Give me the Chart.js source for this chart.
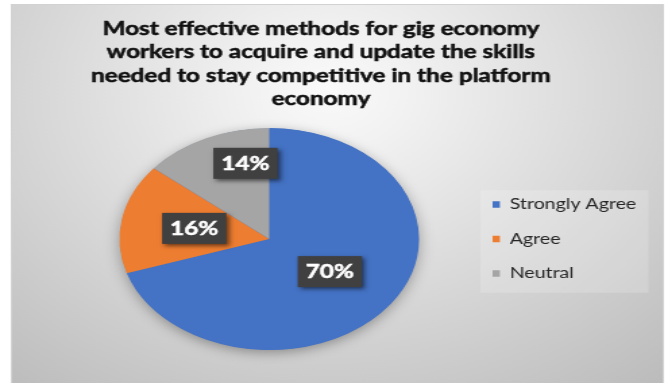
<!DOCTYPE html>
<html>
<head>
<meta charset="utf-8">
<script src="https://cdn.jsdelivr.net/npm/chart.js@4.4.0/dist/chart.umd.min.js"></script>
<style>
  html, body { margin: 0; padding: 0; background: #fff; }
  #survey { display: block; }
</style>
</head>
<body>
<!-- drawn at 495px wide, shown 668px wide -->
<canvas id="survey" width="495" height="383" style="width:668px;height:383px"></canvas>
<script>
const titleLines = [
  "Most effective methods for gig economy",
  "workers to acquire and update the skills",
  "needed to stay competitive in the platform",
  "economy"
];
const responses = ["Strongly Agree", "Agree", "Neutral"];
const shares = [70, 16, 14];
const sliceColors = ["#4472C4", "#ED7D31", "#A5A5A5"];
// where each percentage tag sits in its slice (share of the sweep, share of the radius)
const tagSweep = [0.5, 0.5, 0.74];
const tagRadius = [0.5, 0.51, 0.7];

const FONT = "Lato, 'Open Sans', sans-serif";

const panel = {
  id: "panel",
  beforeDraw(chart) {
    const { ctx, width, height } = chart;
    ctx.save();
    ctx.fillStyle = "#fff";
    ctx.fillRect(0, 0, width, height);
    const g = ctx.createRadialGradient(244, 90, 0, 244, 90, 380);
    g.addColorStop(0, "#fafafa");
    g.addColorStop(0.15, "#f2f2f2");
    g.addColorStop(1, "#bcbcbc");
    ctx.fillStyle = g;
    ctx.fillRect(8, 4, 484, height);
    ctx.strokeStyle = "#d2d2d2";
    ctx.lineWidth = 1;
    ctx.strokeRect(8.5, 4.5, 483, height);

    // title
    ctx.fillStyle = "#111";
    ctx.strokeStyle = "#111";
    ctx.lineWidth = 0.5;
    ctx.font = "bold 18px " + FONT;
    ctx.textAlign = "center";
    ctx.textBaseline = "alphabetic";
    titleLines.forEach((line, i) => {
      ctx.fillText(line, 237.8, 35 + i * 23.3);
      ctx.strokeText(line, 237.8, 35 + i * 23.3);
    });

    // faint backdrop behind the legend
    const boxes = chart.legend.legendHitBoxes;
    if (boxes && boxes.length) {
      const left = boxes[0].left - 9;
      const right = Math.max(...boxes.map(b => b.left + b.width)) + 9;
      const top = boxes[0].top - 7;
      const last = boxes[boxes.length - 1];
      const bottom = last.top + last.height + 12;
      ctx.fillStyle = "rgba(255,255,255,0.18)";
      ctx.fillRect(left, top, right - left, bottom - top);
    }
    ctx.restore();
  },
  beforeDatasetsDraw(chart) {
    // soft shadow under the whole pie
    const arc = chart.getDatasetMeta(0).data[0];
    if (!arc) return;
    const { ctx } = chart;
    ctx.save();
    ctx.shadowColor = "rgba(0,0,0,0.35)";
    ctx.shadowBlur = 12;
    ctx.shadowOffsetY = 3;
    ctx.fillStyle = sliceColors[0];
    ctx.beginPath();
    ctx.arc(arc.x, arc.y, arc.outerRadius - 0.5, 0, Math.PI * 2);
    ctx.fill();
    ctx.restore();
  },
  afterDatasetsDraw(chart) {
    const { ctx } = chart;
    const meta = chart.getDatasetMeta(0);
    ctx.save();
    ctx.font = "bold 18px " + FONT;
    ctx.textAlign = "center";
    ctx.textBaseline = "middle";
    ctx.lineWidth = 0.5;
    meta.data.forEach((arc, i) => {
      const { x, y, startAngle, endAngle, outerRadius } = arc;
      const a = startAngle + tagSweep[i] * (endAngle - startAngle);
      const r = tagRadius[i] * outerRadius;
      const cx = x + Math.cos(a) * r;
      const cy = y + Math.sin(a) * r;
      const text = shares[i] + "%";
      const w = ctx.measureText(text).width + 12;
      const h = 31;
      ctx.shadowColor = "rgba(0,0,0,0.55)";
      ctx.shadowBlur = 4;
      ctx.shadowOffsetX = 2;
      ctx.shadowOffsetY = 2;
      ctx.fillStyle = "#404040";
      ctx.fillRect(cx - w / 2, cy - h / 2, w, h);
      ctx.shadowColor = "transparent";
      ctx.fillStyle = "#fff";
      ctx.strokeStyle = "#fff";
      ctx.fillText(text, cx, cy + 1);
      ctx.strokeText(text, cx, cy + 1);
    });
    ctx.restore();
  }
};

new Chart(document.getElementById("survey"), {
  type: "pie",
  data: {
    labels: responses,
    datasets: [{
      data: shares,
      backgroundColor: sliceColors,
      borderWidth: 0
    }]
  },
  options: {
    responsive: false,
    animation: false,
    devicePixelRatio: 1,
    events: [],
    layout: { padding: { left: 54, right: 13.5, top: 128, bottom: 33 } },
    plugins: {
      title: { display: false },
      tooltip: { enabled: false },
      legend: {
        position: "right",
        labels: {
          boxWidth: 5.4,
          boxHeight: 6.7,
          padding: 20,
          color: "#262626",
          font: { family: FONT, size: 14.5 }
        }
      }
    }
  },
  plugins: [panel]
});
</script>
</body>
</html>
